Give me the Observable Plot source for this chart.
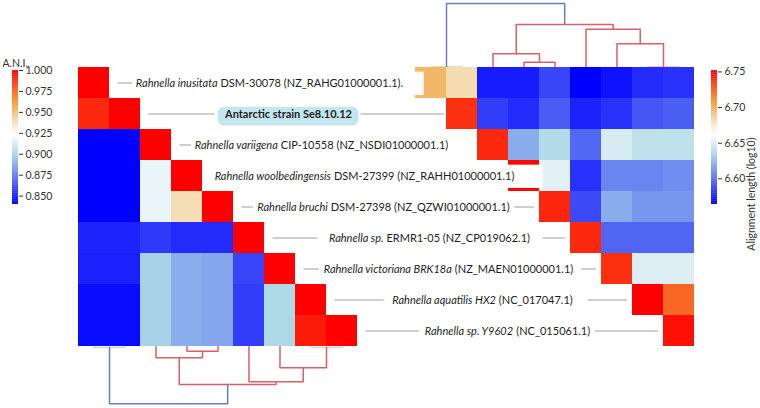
<!DOCTYPE html>
<html>
<head>
<meta charset="utf-8">
<script src="https://cdn.jsdelivr.net/npm/d3@7"></script>
<script src="https://cdn.jsdelivr.net/npm/@observablehq/plot@0.6"></script>
<style>
  html, body { margin: 0; padding: 0; background: #ffffff; }
  #chart { position: relative; width: 760px; height: 408px; overflow: hidden; background: #ffffff; }
  .layer { position: absolute; }
  .layer svg { overflow: visible; }
</style>
</head>
<body>
<div id="chart"></div>
<script>
// ---------------- DATA ----------------
// Row labels (italic part, then upright part)
const italicNames = [
  "Rahnella inusitata", "", "Rahnella variigena", "Rahnella woolbedingensis",
  "Rahnella bruchi", "Rahnella sp.", "Rahnella victoriana BRK18a",
  "Rahnella aquatilis HX2", "Rahnella sp. Y9602"
];
const plainNames = [
  "DSM-30078 (NZ_RAHG01000001.1).", "Antarctic strain Se8.10.12",
  "CIP-10558 (NZ_NSDI01000001.1)", "DSM-27399 (NZ_RAHH01000001.1)",
  "DSM-27398 (NZ_QZWI01000001.1)", "ERMR1-05 (NZ_CP019062.1)",
  "(NZ_MAEN01000001.1)", "(NC_017047.1)", "(NC_015061.1)"
];
const highlightRow = 1;

// A.N.I. – lower triangle (row i has columns 0..i)
const aniRows = [
  [1.000],
  [0.990, 1.000],
  [0.840, 0.840, 1.000],
  [0.840, 0.840, 0.917, 1.000],
  [0.840, 0.840, 0.917, 0.939, 1.000],
  [0.850, 0.850, 0.856, 0.852, 0.852, 1.000],
  [0.849, 0.849, 0.898, 0.888, 0.886, 0.859, 1.000],
  [0.843, 0.843, 0.898, 0.888, 0.886, 0.857, 0.900, 1.000],
  [0.843, 0.843, 0.898, 0.888, 0.886, 0.857, 0.900, 0.993, 1.000]
];
// Alignment length (log10) – upper triangle (row i has columns i..8)
const alignRows = [
  [6.696, 6.681, 6.573, 6.573, 6.587, 6.564, 6.570, 6.578, 6.580],
  [6.738, 6.584, 6.578, 6.594, 6.575, 6.580, 6.592, 6.595],
  [6.740, 6.620, 6.636, 6.598, 6.648, 6.640, 6.640],
  [6.750, 6.652, 6.580, 6.607, 6.607, 6.610],
  [6.741, 6.588, 6.620, 6.613, 6.613],
  [6.740, 6.597, 6.597, 6.597],
  [6.738, 6.650, 6.650],
  [6.752, 6.722],
  [6.748]
];

const aniDomain = [0.84, 1.0];
const alignDomain = [6.564, 6.752];
const aniTicks = [0.850, 0.875, 0.900, 0.925, 0.950, 0.975, 1.000];
const alignTicks = [6.60, 6.65, 6.70, 6.75];
const aniTitle = "A.N.I.";
const alignTitle = "Alignment length (log10)";

// Linkages (scipy style: [clusterA, clusterB, height]); new clusters numbered 9, 10, ...
const topLinkage = [
  [0, 1, 0.020], [7, 8, 0.020], [3, 4, 0.063], [2, 11, 0.147],
  [6, 10, 0.247], [5, 13, 0.393], [12, 14, 0.440], [9, 15, 0.650]
];
const bottomLinkage = [
  [0, 1, 0.010], [7, 8, 0.010], [3, 4, 0.047], [2, 11, 0.113],
  [6, 10, 0.213], [5, 13, 0.353], [12, 14, 0.380], [9, 15, 0.573]
];

// ---------------- STYLE / LAYOUT ----------------
const W = 760, H = 408, N = italicNames.length;
const cell = 31, leftX = 78, rightX = 415, topY = 67;
const xUnits = (rightX + N * cell - leftX) / cell;
const off = (rightX - leftX) / cell;
const fam = 'Lato, "Open Sans", sans-serif';
const fs = 11;
const stops = [0, 0.375, 0.52, 0.62, 0.75, 1];
const ramp = ["#0000ff", "#add8e6", "#ffffff", "#f5deb3", "#f2a23a", "#ff0000"];
const colorScale = {type: "linear", domain: stops, range: ramp, clamp: true};
const labelShift = [7, -5, -3, 9, -3, 12, 0, 3, -3];
const padL = [3, 7, 3, 3, 3.5, 11, 4, 8, 5];
const padR = [21, 7, 29, 29, 5, 13, 8, 15, 5];
const blue = "#5f80c4", red = "#da5f66";
const topColors = ["#cfe8d0", "#f5ccd3", red, red, red, red, red, blue];
const bottomColors = ["#c9d6ee", "#f5ccd3", red, red, red, red, red, blue];

const chart = document.getElementById("chart");
function place(svg, left, top) {
  const d = document.createElement("div");
  d.className = "layer";
  d.style.left = left + "px";
  d.style.top = top + "px";
  d.appendChild(svg);
  chart.appendChild(d);
}
const baseStyle = {background: "transparent", fontFamily: fam, overflow: "visible"};

// ---------------- DENDROGRAMS ----------------
function dendro(linkage, xOffset, colors) {
  const pos = d3.range(N).map(i => ({x: xOffset + i + 0.5, h: 0}));
  const pts = [];
  linkage.forEach(([a, b, h], k) => {
    const A = pos[a], B = pos[b];
    [[A.x, A.h], [A.x, h], [B.x, h], [B.x, B.h]].forEach(([x, y]) =>
      pts.push({id: k, x, y, color: colors[k]}));
    pos.push({x: (A.x + B.x) / 2, h});
  });
  return pts;
}
const topPts = dendro(topLinkage, off, topColors);
const botPts = dendro(bottomLinkage, 0, bottomColors);

place(Plot.plot({
  width: W, height: 68, marginLeft: leftX, marginRight: W - (rightX + N * cell),
  marginTop: 0, marginBottom: 0, style: baseStyle,
  x: {domain: [0, xUnits], axis: null},
  y: {domain: [0, 0.68], axis: null},
  color: {type: "identity"},
  marks: [Plot.line(topPts, {x: "x", y: "y", z: "id", stroke: "color", strokeWidth: 1.5})]
}), 0, 0);

place(Plot.plot({
  width: W, height: 61, marginLeft: leftX, marginRight: W - (rightX + N * cell),
  marginTop: 0, marginBottom: 0, style: baseStyle,
  x: {domain: [0, xUnits], axis: null},
  y: {domain: [0, 0.61], reverse: true, axis: null},
  color: {type: "identity"},
  marks: [Plot.line(botPts, {x: "x", y: "y", z: "id", stroke: "color", strokeWidth: 1.5})]
}), 0, 346);

// ---------------- MATRICES + LABELS ----------------
const norm = (v, [lo, hi]) => (v - lo) / (hi - lo);
const cells = [];
aniRows.forEach((row, r) => row.forEach((v, c) =>
  cells.push({x1: c, x2: c + 1, y1: r, y2: r + 1, t: norm(v, aniDomain)})));
alignRows.forEach((row, r) => row.forEach((v, k) => {
  const c = r + k;
  cells.push({x1: off + c, x2: off + c + 1, y1: r, y2: r + 1, t: norm(v, alignDomain)});
}));

const ctx = document.createElement("canvas").getContext("2d");
function tw(s, style, weight) {
  ctx.font = `${style} ${weight} ${fs}px ${fam}`;
  return ctx.measureText(s).width;
}
const toU = px => (px - leftX) / cell;
const italicTexts = [], plainTexts = [], boldTexts = [], boxes = [], hiBoxes = [], lines = [];
for (let i = 0; i < N; i++) {
  const leftEnd = leftX + cell * (i + 1);
  const rightStart = rightX + cell * i;
  const center = (leftEnd + rightStart) / 2 + labelShift[i];
  let start, end;
  if (i === highlightRow) {
    const w = tw(plainNames[i], "normal", "bold");
    start = center - w / 2; end = center + w / 2;
    boldTexts.push({x: toU(start), y: i + 0.5, s: plainNames[i]});
    hiBoxes.push({x1: toU(start - padL[i]), x2: toU(end + padR[i]), y1: i + 0.28, y2: i + 0.89});
    lines.push({x1: toU(leftEnd + 8), x2: toU(start - padL[i] - 3), y: i + 0.5});
    lines.push({x1: toU(end + padR[i] + 2), x2: toU(rightStart - 2), y: i + 0.5});
    continue;
  }
  const wI = tw(italicNames[i], "italic", "normal");
  const wS = tw(" ", "normal", "normal");
  const wP = tw(plainNames[i], "normal", "normal");
  const total = wI + wS + wP;
  start = center - total / 2; end = center + total / 2;
  italicTexts.push({x: toU(start), y: i + 0.5, s: italicNames[i]});
  plainTexts.push({x: toU(start + wI + wS), y: i + 0.5, s: plainNames[i]});
  boxes.push({x1: toU(start - padL[i]), x2: toU(end + padR[i]), y1: i + 0.15, y2: i + 0.9});
  const l1 = leftEnd + 8.5, l2 = start - padL[i];
  if (l2 - l1 > 3) lines.push({x1: toU(l1), x2: toU(l2), y: i + 0.5});
  const r1 = end + padR[i], r2 = rightStart - 5;
  if (r2 - r1 > 3) lines.push({x1: toU(r1), x2: toU(r2), y: i + 0.5});
}

place(Plot.plot({
  width: W, height: H, marginLeft: leftX, marginRight: W - (rightX + N * cell),
  marginTop: topY, marginBottom: H - (topY + N * cell), style: baseStyle,
  x: {domain: [0, xUnits], axis: null},
  y: {domain: [0, N], reverse: true, axis: null},
  color: colorScale,
  marks: [
    Plot.rect(cells, {x1: "x1", x2: "x2", y1: "y1", y2: "y2", fill: "t", shapeRendering: "crispEdges"}),
    Plot.ruleY(lines, {x1: "x1", x2: "x2", y: "y", stroke: "#cfcfcf", strokeWidth: 2}),
    Plot.rect(boxes, {x1: "x1", x2: "x2", y1: "y1", y2: "y2", fill: "#ffffff"}),
    Plot.rect(hiBoxes, {x1: "x1", x2: "x2", y1: "y1", y2: "y2", fill: "#c4e6ee", rx: 6}),
    Plot.text(italicTexts, {x: "x", y: "y", text: "s", textAnchor: "start", fontStyle: "italic", fontSize: fs, fill: "#1e1e1e"}),
    Plot.text(plainTexts, {x: "x", y: "y", text: "s", textAnchor: "start", fontSize: fs, fill: "#1e1e1e"}),
    Plot.text(boldTexts, {x: "x", y: "y", text: "s", textAnchor: "start", fontWeight: "bold", fontSize: fs, fill: "#1e1e1e"})
  ]
}), 0, 0);

// ---------------- COLORBARS ----------------
function colorbar(domain, ticks, fmt, title, opts) {
  const [lo, hi] = domain;
  const steps = 200;
  const bands = d3.range(steps).map(k => {
    const a = lo + (hi - lo) * k / steps, b = lo + (hi - lo) * (k + 1.5) / steps;
    return {y1: a, y2: Math.min(b, hi), t: (k + 0.5) / steps};
  });
  return Plot.plot({
    width: opts.width, height: 220, marginLeft: opts.ml, marginRight: opts.width - opts.ml - 6,
    marginTop: 70, marginBottom: 16, style: baseStyle,
    x: {domain: [0, 1], axis: null},
    y: {domain, axis: null},
    color: colorScale,
    marks: [
      Plot.rect(bands, {x1: 0, x2: 1, y1: "y1", y2: "y2", fill: "t"}),
      Plot.axisY(ticks, {anchor: "right", tickFormat: fmt, tickSize: 4, tickPadding: 3, fontSize: 10.5, color: "#333", label: null}),
      opts.title
    ]
  });
}
place(colorbar(aniDomain, aniTicks, d3.format(".3f"), aniTitle, {
  width: 70, ml: 12,
  title: Plot.text([aniTitle], {frameAnchor: "top-left", dx: -10, dy: -4, lineAnchor: "bottom", textAnchor: "start", fontSize: 10.5, fill: "#333"})
}), 0, 0);
place(colorbar(alignDomain, alignTicks, d3.format(".2f"), alignTitle, {
  width: 60, ml: 11,
  title: Plot.text([alignTitle], {frameAnchor: "right", dx: 34, rotate: -90, fontSize: 10.5, fill: "#333"})
}), 700, 0);
</script>
</body>
</html>
